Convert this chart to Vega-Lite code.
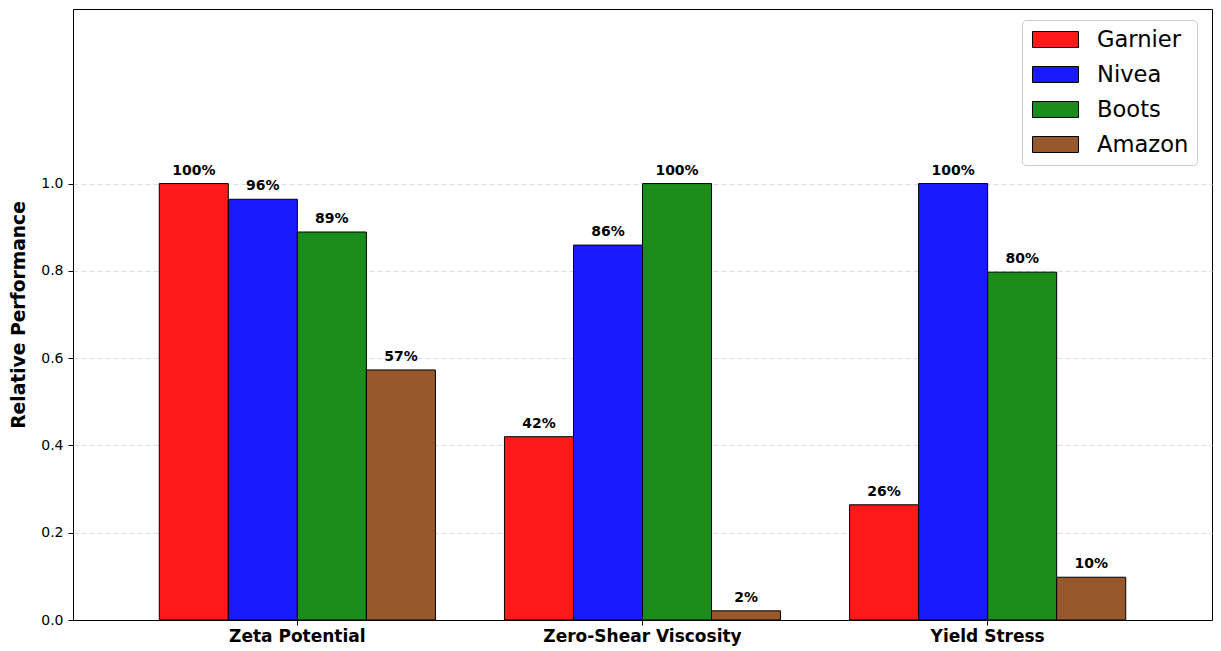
{
  "$schema": "https://vega.github.io/schema/vega-lite/v6.json",
  "width": 1139,
  "height": 611,
  "autosize": {"type": "none"},
  "padding": {"left": 73, "top": 9, "right": 9, "bottom": 31},
  "background": "white",
  "config": {
    "font": "DejaVu Sans",
    "view": {"stroke": "black", "strokeWidth": 1}
  },
  "data": {
    "values": [
      {"metric": "Zeta Potential", "brand": "Garnier", "value": 1.0},
      {"metric": "Zeta Potential", "brand": "Nivea", "value": 0.964},
      {"metric": "Zeta Potential", "brand": "Boots", "value": 0.889},
      {"metric": "Zeta Potential", "brand": "Amazon", "value": 0.573},
      {"metric": "Zero-Shear Viscosity", "brand": "Garnier", "value": 0.42},
      {"metric": "Zero-Shear Viscosity", "brand": "Nivea", "value": 0.859},
      {"metric": "Zero-Shear Viscosity", "brand": "Boots", "value": 1.0},
      {"metric": "Zero-Shear Viscosity", "brand": "Amazon", "value": 0.021},
      {"metric": "Yield Stress", "brand": "Garnier", "value": 0.264},
      {"metric": "Yield Stress", "brand": "Nivea", "value": 1.0},
      {"metric": "Yield Stress", "brand": "Boots", "value": 0.797},
      {"metric": "Yield Stress", "brand": "Amazon", "value": 0.098}
    ]
  },
  "encoding": {
    "x": {
      "field": "metric",
      "type": "nominal",
      "sort": ["Zeta Potential", "Zero-Shear Viscosity", "Yield Stress"],
      "scale": {"paddingInner": 0.2, "paddingOuter": 0.25},
      "axis": {
        "title": null,
        "labelAngle": 0,
        "labelLimit": 0,
        "labelFont": "DejaVu Sans",
        "labelFontSize": 17,
        "labelFontWeight": "bold",
        "labelColor": "black",
        "labelPadding": 3,
        "tickColor": "black",
        "tickSize": 5,
        "domainColor": "black"
      }
    },
    "xOffset": {
      "field": "brand",
      "type": "nominal",
      "sort": ["Garnier", "Nivea", "Boots", "Amazon"],
      "scale": {"paddingInner": 0, "paddingOuter": 0}
    },
    "y": {
      "field": "value",
      "type": "quantitative",
      "scale": {"domain": [0, 1.4], "nice": false},
      "axis": {
        "title": "Relative Performance",
        "titleFontSize": 18.7,
        "titleFontWeight": "bold",
        "titleColor": "black",
        "titlePadding": 12,
        "values": [0, 0.2, 0.4, 0.6, 0.8, 1.0],
        "format": ".1f",
        "labelFontSize": 14,
        "labelColor": "black",
        "labelPadding": 5,
        "tickColor": "black",
        "tickSize": 5,
        "domainColor": "black",
        "grid": true,
        "gridColor": "#dddddd",
        "gridDash": [5, 3],
        "gridWidth": 1
      }
    }
  },
  "layer": [
    {
      "mark": {"type": "bar", "stroke": "black", "strokeWidth": 1},
      "encoding": {
        "color": {
          "field": "brand",
          "type": "nominal",
          "scale": {
            "domain": ["Garnier", "Nivea", "Boots", "Amazon"],
            "range": ["#ff1a1a", "#1a1aff", "#1a8d1a", "#97582b"]
          },
          "legend": {
            "title": null,
            "orient": "none",
            "legendX": 949,
            "legendY": 11,
            "labelFontSize": 22.6,
            "labelColor": "black",
            "labelFont": "DejaVu Sans",
            "symbolType": "M-2.0909,-0.727H2.0909V0.727H-2.0909Z",
            "symbolSize": 484,
            "symbolOffset": 14,
            "symbolStrokeColor": "black",
            "symbolStrokeWidth": 1,
            "symbolOpacity": 1,
            "labelOffset": 30,
            "rowPadding": 11,
            "padding": 8,
            "strokeColor": "#cccccc",
            "fillColor": "white",
            "cornerRadius": 4
          }
        }
      }
    },
    {
      "mark": {"type": "text", "baseline": "bottom", "dy": -6, "fontSize": 14, "fontWeight": "bold", "color": "black"},
      "encoding": {
        "text": {"field": "value", "type": "quantitative", "format": ".0%"}
      }
    }
  ]
}
